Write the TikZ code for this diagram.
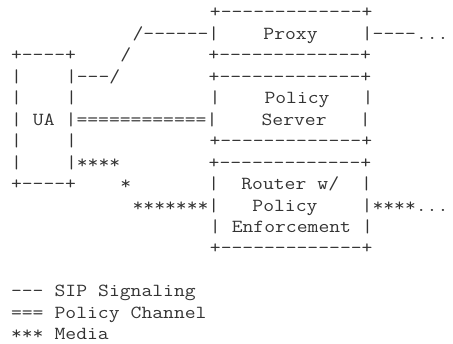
\documentclass[tikz,border=0pt]{standalone}
\usepackage{fontspec}
\newcommand\sk[1]{\hspace*{\dimexpr 0.525em*#1\relax}}
\tikzset{
  asciiline/.style={anchor=base west, inner sep=0pt, outer sep=0pt,
    xscale=1.1426, transform shape,
    text=black!80, font=\ttfamily\fontsize{18.42}{21.5}\selectfont}
}
\begin{document}
\begin{tikzpicture}[x=1pt,y=-1pt]
\useasboundingbox (0,0) rectangle (453,344);
\def\b{17.8}
\def\s{21.47}
\node[asciiline] (r1)  at (0,{\b+0*\s})  {\sk{19}+-------------+};
\node[asciiline] (r2)  at (0,{\b+1*\s})  {\sk{12}/------|\sk{4}Proxy\sk{4}|----...};
\node[asciiline] (r3)  at (0,{\b+2*\s})  {\sk{1}+----+\sk{4}/\sk{7}+-------------+};
\node[asciiline] (r4)  at (0,{\b+3*\s})  {\sk{1}|\sk{4}|---/\sk{8}+-------------+};
\node[asciiline] (r5)  at (0,{\b+4*\s})  {\sk{1}|\sk{4}|\sk{12}|\sk{4}Policy\sk{3}|};
\node[asciiline] (r6)  at (0,{\b+5*\s})  {\sk{1}|\sk{1}UA\sk{1}|============|\sk{4}Server\sk{3}|};
\node[asciiline] (r7)  at (0,{\b+6*\s})  {\sk{1}|\sk{4}|\sk{12}+-------------+};
\node[asciiline] (r8)  at (0,{\b+7*\s})  {\sk{1}|\sk{4}|****\sk{8}+-------------+};
\node[asciiline] (r9)  at (0,{\b+8*\s})  {\sk{1}+----+\sk{4}*\sk{7}|\sk{2}Router\sk{1}w/\sk{2}|};
\node[asciiline] (r10) at (0,{\b+9*\s})  {\sk{12}*******|\sk{3}Policy\sk{4}|****...};
\node[asciiline] (r11) at (0,{\b+10*\s}) {\sk{19}|\sk{1}Enforcement\sk{1}|};
\node[asciiline] (r12) at (0,{\b+11*\s}) {\sk{19}+-------------+};
\node[asciiline] (r14) at (0,{\b+13*\s}) {\sk{1}---\sk{1}SIP\sk{1}Signaling};
\node[asciiline] (r15) at (0,{\b+14*\s}) {\sk{1}===\sk{1}Policy\sk{1}Channel};
\node[asciiline] (r16) at (0,{\b+15*\s}) {\sk{1}***\sk{1}Media};
\end{tikzpicture}
\end{document}
